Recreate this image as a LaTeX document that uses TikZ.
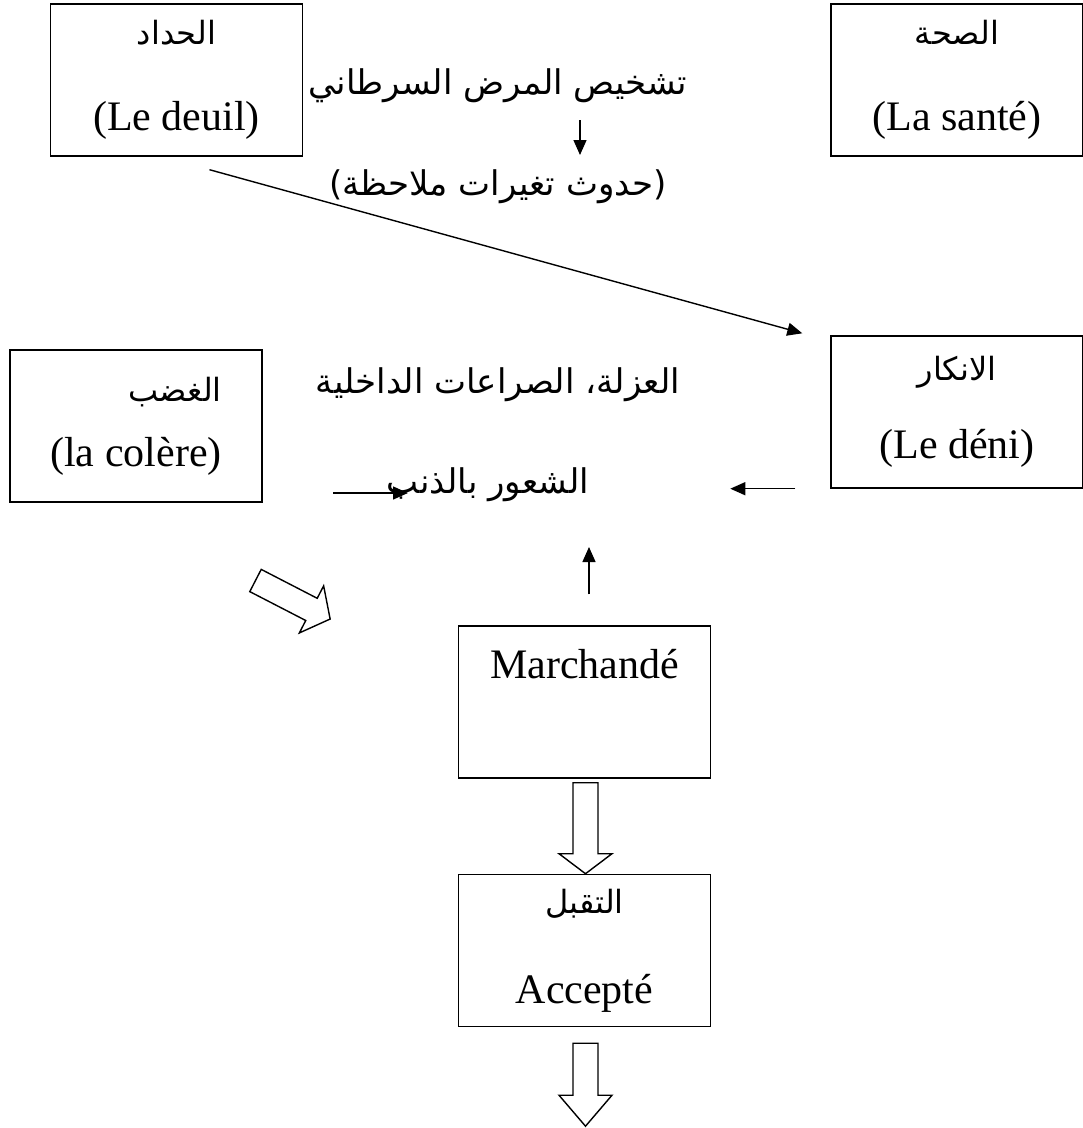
\documentclass[tikz,border=0pt]{standalone}
\usepackage{fontspec}
\setmainfont{Liberation Serif}
\newfontfamily\arabicfont[Script=Arabic]{DejaVu Sans}
\TeXXeTstate=1
\usetikzlibrary{arrows.meta,positioning,calc}

\newcommand{\arbox}[1]{{\arabicfont\fontsize{32}{38}\selectfont\beginR #1\endR}}
\newcommand{\artext}[1]{{\arabicfont\beginR #1\endR}}

\begin{document}
\begin{tikzpicture}[x=1pt, y=-1pt,
    box/.style={rectangle, draw, line width=1.4pt, minimum width=252pt,
                minimum height=152pt, align=center, inner sep=0pt,
                font=\fontsize{42}{46}\selectfont},
    lbl/.style={inner sep=0pt, font=\fontsize{34}{40}\selectfont},
    arr/.style={-{Triangle[length=15pt,width=13pt]}, line width=1.4pt},
    pics/hollow/.style 2 args={code={
        \draw[line width=1.4pt, fill=white, line join=miter]
            (0,-12.5) -- ({#1-#2},-12.5) -- ({#1-#2},-26.5) -- (#1,0)
            -- ({#1-#2},26.5) -- ({#1-#2},12.5) -- (0,12.5) -- cycle;}}
]
\useasboundingbox (0,0) rectangle (1083,1128);

% boxes
\node[box] (deuil) at (176.5,80) {\arbox{الحداد}\\[40pt](Le deuil)};
\node[box] (sante) at (957,80) {\arbox{الصحة}\\[40pt](La santé)};
\node[box, align=right] (colere) at (136,426) {\arbox{الغضب}\\[19pt](la colère)};
\node[box] (deni) at (957,412) {\arbox{الانكار}\\[32pt](Le déni)};
\node[box] (march) at (584.5,702) {Marchandé\\[31pt]\mbox{}};
\node[box] (acc) at (584.5,950.5) {\arbox{التقبل}\\[44pt]Accepté};

% free texts
\node[lbl] (diag) at (498,86) {\artext{تشخيص المرض السرطاني}};
\node[lbl] (change) at (498,187) {\artext{(حدوث تغيرات ملاحظة)}};
\node[lbl] (isol) at (498,385) {\artext{العزلة، الصراعات الداخلية}};
\node[lbl] (guilt) at (488,485) {\artext{الشعور بالذنب}};

% arrow ends
\coordinate (diagend) at (580,120);
\coordinate (changeend) at (580,155);
\coordinate (deuilend) at ($(deuil.south)+(33,13)$);
\coordinate (deniend) at ($(deni.north west)+(-28,-2)$);
\coordinate (denileft) at ($(deni.south west)+(-35,0)$);
\coordinate (guiltin) at ($(denileft)+(-65,0)$);
\coordinate (guiltleft) at (333,493);
\coordinate (guiltright) at (408,493);
\coordinate (marchup) at ($(march.north)+(4.5,-31)$);
\coordinate (guiltup) at (589,547);

\draw[arr] (diagend) -- (changeend);
\draw[arr] (deuilend) -- (deniend);
\draw[arr] (denileft) -- (guiltin);
\draw[arr] (guiltleft) -- (guiltright);
\draw[arr] (marchup) -- (guiltup);

% hollow arrows
\pic[rotate=-27.3] at (255.5,580.5) {hollow={84}{21}};
\pic[rotate=-90] at ($(march.south)+(1,4)$) {hollow={91}{20}};
\pic[rotate=-90] at ($(acc.south)+(1,16)$) {hollow={83}{31}};
\end{tikzpicture}
\end{document}
